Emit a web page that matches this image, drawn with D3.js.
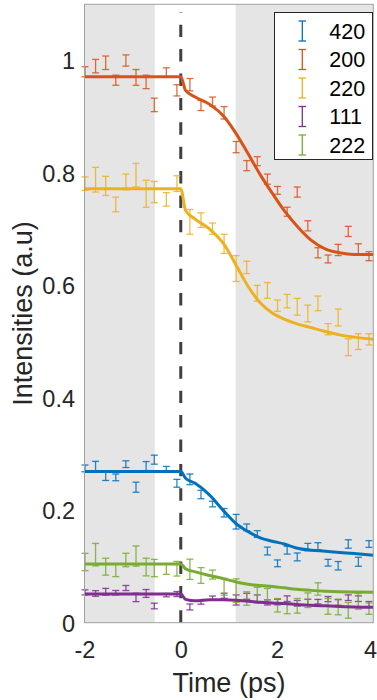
<!DOCTYPE html>
<html>
<head>
<meta charset="utf-8">
<script src="https://cdn.jsdelivr.net/npm/d3@7"></script>
<style>
  html, body { margin: 0; padding: 0; background: #ffffff; }
  svg { display: block; font-family: "Liberation Sans", Arial, Helvetica, sans-serif; }
</style>
</head>
<body>
<svg id="chart" width="377" height="700"></svg>
<script>
// Delay times (ps) of the measured points
const times = [-1.99, -1.77, -1.56, -1.35, -1.14, -0.93, -0.72, -0.55, -0.30, -0.08,
  0.19, 0.42, 0.66, 0.90, 1.15, 1.37, 1.59, 1.80, 2.01, 2.21, 2.42, 2.64, 2.85, 3.06, 3.27, 3.48, 3.69, 3.91];

// Normalised peak intensities and their uncertainties
const i420 = [0.2745, 0.278, 0.261, 0.2585, 0.282, 0.241, 0.2786, 0.290, 0.273, 0.248,
  0.255, 0.228, 0.211, 0.1956, 0.1796, 0.1696, 0.1577, 0.1275, 0.1056, 0.129, 0.117, 0.1346, 0.1358, 0.1067, 0.1013, 0.140, 0.1084, 0.140];
const e420 = [0.006, 0.009, 0.008, 0.006, 0.006, 0.009, 0.008, 0.008, 0.005, 0.007,
  0.0095, 0.0075, 0.005, 0.0075, 0.013, 0.006, 0.006, 0.007, 0.006, 0.007, 0.007, 0.0065, 0.0065, 0.006, 0.0075, 0.0075, 0.008, 0.006];

const i200 = [0.980, 0.990, 0.996, 0.965, 1.000, 0.970, 0.962, 0.921, 0.979, 0.947,
  0.957, 0.920, 0.927, 0.907, 0.846, 0.813, 0.821, 0.789, 0.769, 0.731, 0.766, 0.706, 0.658, 0.647, 0.663, 0.696, 0.664, 0.652];
const e200 = [0.009, 0.012, 0.012, 0.009, 0.010, 0.014, 0.012, 0.012, 0.008, 0.010,
  0.011, 0.009, 0.008, 0.011, 0.010, 0.009, 0.008, 0.009, 0.007, 0.008, 0.009, 0.009, 0.009, 0.007, 0.010, 0.009, 0.010, 0.008];

const i220 = [0.781, 0.788, 0.777, 0.744, 0.784, 0.796, 0.763, 0.766, 0.753, 0.781,
  0.713, 0.716, 0.701, 0.674, 0.630, 0.632, 0.586, 0.591, 0.564, 0.572, 0.562, 0.550, 0.568, 0.522, 0.543, 0.490, 0.500, 0.504];
const e220 = [0.012, 0.022, 0.017, 0.013, 0.014, 0.021, 0.024, 0.019, 0.012, 0.014,
  0.022, 0.013, 0.010, 0.017, 0.023, 0.011, 0.014, 0.014, 0.010, 0.012, 0.015, 0.015, 0.013, 0.010, 0.015, 0.015, 0.014, 0.010];

const i111 = [0.054, 0.052, 0.055, 0.0533, 0.0617, 0.045, 0.052, 0.0297, 0.049, 0.051,
  0.028, 0.036, 0.0439, 0.048, 0.0404, 0.047, 0.0434, 0.036, 0.0368, 0.0427, 0.0345, 0.0368, 0.0374, 0.042, 0.036, 0.0445, 0.0427, 0.0332];
const e111 = [0.0045, 0.005, 0.006, 0.004, 0.0045, 0.0075, 0.007, 0.005, 0.003, 0.0045,
  0.0053, 0.003, 0.0035, 0.0045, 0.009, 0.0053, 0.006, 0.0045, 0.005, 0.005, 0.005, 0.005, 0.004, 0.0045, 0.005, 0.005, 0.005, 0.0045];

const i222 = [0.108, 0.121, 0.0996, 0.093, 0.1115, 0.1186, 0.099, 0.0972, 0.095, 0.096,
  0.095, 0.084, 0.0856, 0.064, 0.057, 0.043, 0.049, 0.048, 0.031, 0.026, 0.030, 0.040, 0.060, 0.029, 0.028, 0.022, 0.038, 0.025];
const e222 = [0.0154, 0.020, 0.015, 0.011, 0.012, 0.018, 0.0157, 0.0154, 0.009, 0.013,
  0.018, 0.014, 0.008, 0.015, 0.021, 0.012, 0.014, 0.013, 0.012, 0.010, 0.013, 0.013, 0.011, 0.014, 0.014, 0.014, 0.014, 0.010];

// Fitted model curves, sampled on a common time grid
const fitTimes = [-2, 0, 0.1, 0.3, 0.6, 0.9, 1.15, 1.4, 1.65, 1.9, 2.15, 2.4, 2.7, 3.0, 3.3, 3.6, 4.0];
const fit420 = [0.269, 0.269, 0.257, 0.248, 0.227, 0.198, 0.176, 0.162, 0.151, 0.145, 0.140, 0.133, 0.129, 0.1272, 0.125, 0.123, 0.120];
const fit200 = [0.971, 0.971, 0.947, 0.935, 0.922, 0.900, 0.870, 0.834, 0.797, 0.764, 0.733, 0.707, 0.681, 0.665, 0.658, 0.655, 0.655];
const fit220 = [0.772, 0.772, 0.733, 0.718, 0.700, 0.673, 0.636, 0.598, 0.569, 0.551, 0.540, 0.532, 0.525, 0.518, 0.512, 0.508, 0.504];
const fit111 = [0.051, 0.051, 0.0416, 0.039, 0.041, 0.041, 0.040, 0.038, 0.0365, 0.035, 0.034, 0.0325, 0.031, 0.030, 0.029, 0.028, 0.0273];
const fit222 = [0.1044, 0.1044, 0.096, 0.0905, 0.084, 0.078, 0.0725, 0.0685, 0.066, 0.0643, 0.062, 0.0595, 0.0575, 0.056, 0.055, 0.0545, 0.054];

// Legend labels (reflections) and colours
const labels = ["420", "200", "220", "111", "222"];
const colors = ["#0072BD", "#D95319", "#EDB120", "#7E2F8E", "#77AC30"];

// Shaded time windows (ps)
const shadeStarts = [-2, 1.14];
const shadeEnds = [-0.54, 4];

// Axis ticks
const xTicks = [-2, 0, 2, 4];
const yTicks = [0, 0.2, 0.4, 0.6, 0.8, 1];

const series = [
  { name: labels[0], color: colors[0], y: i420, e: e420, fit: fit420 },
  { name: labels[1], color: colors[1], y: i200, e: e200, fit: fit200 },
  { name: labels[2], color: colors[2], y: i220, e: e220, fit: fit220 },
  { name: labels[3], color: colors[3], y: i111, e: e111, fit: fit111 },
  { name: labels[4], color: colors[4], y: i222, e: e222, fit: fit222 }
];

const W = 377;
const svg = d3.select("#chart");
const plotLeft = 84.5, plotRight = 373.3, plotTop = 4.3, plotBottom = 622.7;

const x = d3.scaleLinear().domain([-2, 4]).range([plotLeft, plotRight]);
const y = d3.scaleLinear().domain([0, 1.1]).range([plotBottom, plotTop]);

// Shaded windows
svg.append("g").selectAll("rect")
  .data(d3.zip(shadeStarts, shadeEnds))
  .join("rect")
  .attr("x", d => x(d[0]))
  .attr("width", d => x(d[1]) - x(d[0]))
  .attr("y", plotTop)
  .attr("height", plotBottom - plotTop)
  .attr("fill", "#e5e5e5");

// Pump arrival (t = 0), dashed
svg.append("line")
  .attr("x1", x(0)).attr("x2", x(0))
  .attr("y1", plotBottom).attr("y2", plotTop + 8)
  .attr("stroke", "#404040")
  .attr("stroke-width", 3)
  .attr("stroke-dasharray", "12.4,12");

const plot = svg.append("g");
const capHalf = 3.5;
const line = d3.line().x(d => x(d[0])).y(d => y(d[1])).curve(d3.curveMonotoneX);

series.forEach(s => {
  const g = plot.append("g");
  const pts = times.map((t, i) => ({ t, v: s.y[i], e: s.e[i] }));
  const bars = g.selectAll("g.bar").data(pts).join("g").attr("class", "bar")
    .attr("stroke", s.color).attr("stroke-width", 1.3).attr("stroke-opacity", 0.85);
  bars.append("line")
    .attr("x1", d => x(d.t)).attr("x2", d => x(d.t))
    .attr("y1", d => y(d.v - d.e)).attr("y2", d => y(d.v + d.e));
  bars.append("line")
    .attr("x1", d => x(d.t) - capHalf).attr("x2", d => x(d.t) + capHalf)
    .attr("y1", d => y(d.v - d.e)).attr("y2", d => y(d.v - d.e));
  bars.append("line")
    .attr("x1", d => x(d.t) - capHalf).attr("x2", d => x(d.t) + capHalf)
    .attr("y1", d => y(d.v + d.e)).attr("y2", d => y(d.v + d.e));
});

series.forEach(s => {
  plot.append("path")
    .datum(d3.zip(fitTimes, s.fit))
    .attr("d", line)
    .attr("fill", "none")
    .attr("stroke", s.color)
    .attr("stroke-width", 3)
    .attr("stroke-linejoin", "round");
});

// Axes box
svg.append("rect")
  .attr("x", plotLeft).attr("y", plotTop)
  .attr("width", plotRight - plotLeft).attr("height", plotBottom - plotTop)
  .attr("fill", "none").attr("stroke", "#a0a0a0").attr("stroke-width", 1);

const tickFont = 23.5;
const xAxis = d3.axisBottom(x).tickValues(xTicks).tickSize(0).tickPadding(0).tickFormat(d => String(d));
const xAxisG = svg.append("g").attr("transform", `translate(0,${plotBottom})`).call(xAxis)
  .call(g => g.select(".domain").remove());
xAxisG.selectAll("text")
  .attr("dy", null).attr("y", 35)
  .attr("font-size", tickFont).attr("fill", "#262626")
  .attr("font-family", "Liberation Sans, Arial, sans-serif");
// keep the right-most tick label inside the canvas
xAxisG.selectAll(".tick").each(function (d) {
  const t = d3.select(this).select("text");
  const bb = t.node().getBBox();
  const absRight = x(d) + bb.x + bb.width;
  if (absRight > W - 0.5) t.attr("x", (W - 0.5) - absRight);
});

const yAxis = d3.axisLeft(y).tickValues(yTicks).tickSize(0).tickPadding(0).tickFormat(d => String(d));
svg.append("g").attr("transform", `translate(${plotLeft},0)`).call(yAxis)
  .call(g => g.select(".domain").remove())
  .selectAll("text")
  .attr("x", -9.5).attr("dy", "0.36em")
  .attr("font-size", tickFont).attr("fill", "#262626")
  .attr("font-family", "Liberation Sans, Arial, sans-serif");

// Axis titles
svg.append("text")
  .attr("x", (plotLeft + plotRight) / 2).attr("y", 692)
  .attr("text-anchor", "middle")
  .attr("font-size", 27).attr("fill", "#262626")
  .text("Time (ps)");

svg.append("text")
  .attr("transform", `translate(31.5,${(plotTop + plotBottom) / 2}) rotate(-90)`)
  .attr("text-anchor", "middle")
  .attr("font-size", 27).attr("fill", "#262626")
  .text("Intensities (a.u)");

// Legend
const lg = svg.append("g");
lg.append("rect")
  .attr("x", 274.5).attr("y", 12.5).attr("width", 98).attr("height", 147)
  .attr("fill", "#ffffff").attr("stroke", "#262626").attr("stroke-width", 1);
const rowY = d3.scalePoint().domain(labels).range([31, 145]);
series.forEach(s => {
  const cy = rowY(s.name);
  const ig = lg.append("g").attr("stroke", s.color).attr("stroke-width", 1.3);
  ig.append("line").attr("x1", 302.3).attr("x2", 302.3).attr("y1", cy - 10).attr("y2", cy + 10);
  ig.append("line").attr("x1", 298.5).attr("x2", 306.1).attr("y1", cy - 10).attr("y2", cy - 10);
  ig.append("line").attr("x1", 298.5).attr("x2", 306.1).attr("y1", cy + 10).attr("y2", cy + 10);
  lg.append("text")
    .attr("x", 329.3).attr("y", cy).attr("dy", "0.36em")
    .attr("font-size", 21.5).attr("fill", "#000000")
    .text(s.name);
});
</script>
</body>
</html>
